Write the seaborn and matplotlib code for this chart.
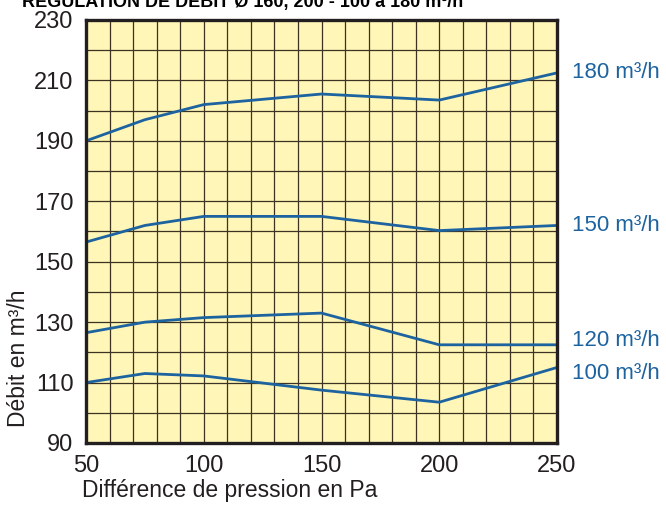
import matplotlib
matplotlib.use("Agg")
import matplotlib.pyplot as plt
import seaborn as sns
import pandas as pd

pressure = [50, 75, 100, 150, 200, 250]
flow_180 = [190, 197, 202, 205.5, 203.5, 212.5]
flow_150 = [156.5, 162, 165, 165, 160.3, 162]
flow_120 = [126.5, 130, 131.5, 133, 122.5, 122.5]
flow_100 = [110, 113, 112.2, 107.5, 103.5, 115]
series_labels = ["180 m³/h", "150 m³/h", "120 m³/h", "100 m³/h"]
x_ticks = [50, 100, 150, 200, 250]
y_ticks = [90, 110, 130, 150, 170, 190, 210, 230]
title = "REGULATION DE DEBIT Ø 160, 200 - 100 à 180 m³/h"
x_label = "Différence de pression en Pa"
y_label = "Débit en m³/h"

sns.set_theme(style="white")
plt.rcParams['font.family'] = ['Liberation Sans', 'DejaVu Sans']

rows = []
for lab, vals in zip(series_labels, [flow_180, flow_150, flow_120, flow_100]):
    for p, v in zip(pressure, vals):
        rows.append({"pression": p, "debit": v, "serie": lab})
df = pd.DataFrame(rows)

blue = "#1d63a0"
dark = "#231f20"

fig = plt.figure(figsize=(6.66, 5.07), dpi=100)
ax = fig.add_axes([86/666, 1-443/507, (557-86)/666, (443-20)/507])
ax.set_facecolor("#fff6b8")

sns.lineplot(data=df, x="pression", y="debit", hue="serie", palette=[blue]*4,
             linewidth=2.0, legend=False, ax=ax, zorder=3)

ax.set_xlim(50, 250)
ax.set_ylim(90, 230)
ax.set_xticks(range(50, 251, 10), minor=True)
ax.set_yticks(range(90, 231, 10), minor=True)
ax.set_xticks(x_ticks)
ax.set_yticks(y_ticks)
ax.grid(True, which="both", color="#3d3322", linewidth=0.9)
ax.tick_params(which="both", length=0)
ax.tick_params(axis="y", labelsize=17, labelcolor=dark, pad=9)
ax.tick_params(axis="x", labelsize=17, labelcolor=dark, pad=9)
for s in ax.spines.values():
    s.set_color(dark)
    s.set_linewidth(2.4)
    s.set_zorder(5)
ax.set_xlabel("")
ax.set_ylabel("")

offsets = [0, 0, 1.5, -2]
for lab, vals, off in zip(series_labels, [flow_180, flow_150, flow_120, flow_100], offsets):
    ax.annotate(lab, xy=(pressure[-1], vals[-1] + off), xytext=(11, 0),
                textcoords="offset points", va="center", ha="left",
                color=blue, fontsize=16, annotation_clip=False)

fig.text(82/666, 1-490/507, x_label, ha="left", va="center", fontsize=16.5, color=dark)
fig.text(19/666, 1-358/507, y_label, ha="center", va="center", rotation=90,
         fontsize=16.5, color=dark)
fig.text(22/666, 1-7/507, title, ha="left", va="baseline", fontsize=13,
         fontweight="bold", color="black")

fig.savefig("out.png", dpi=100)
